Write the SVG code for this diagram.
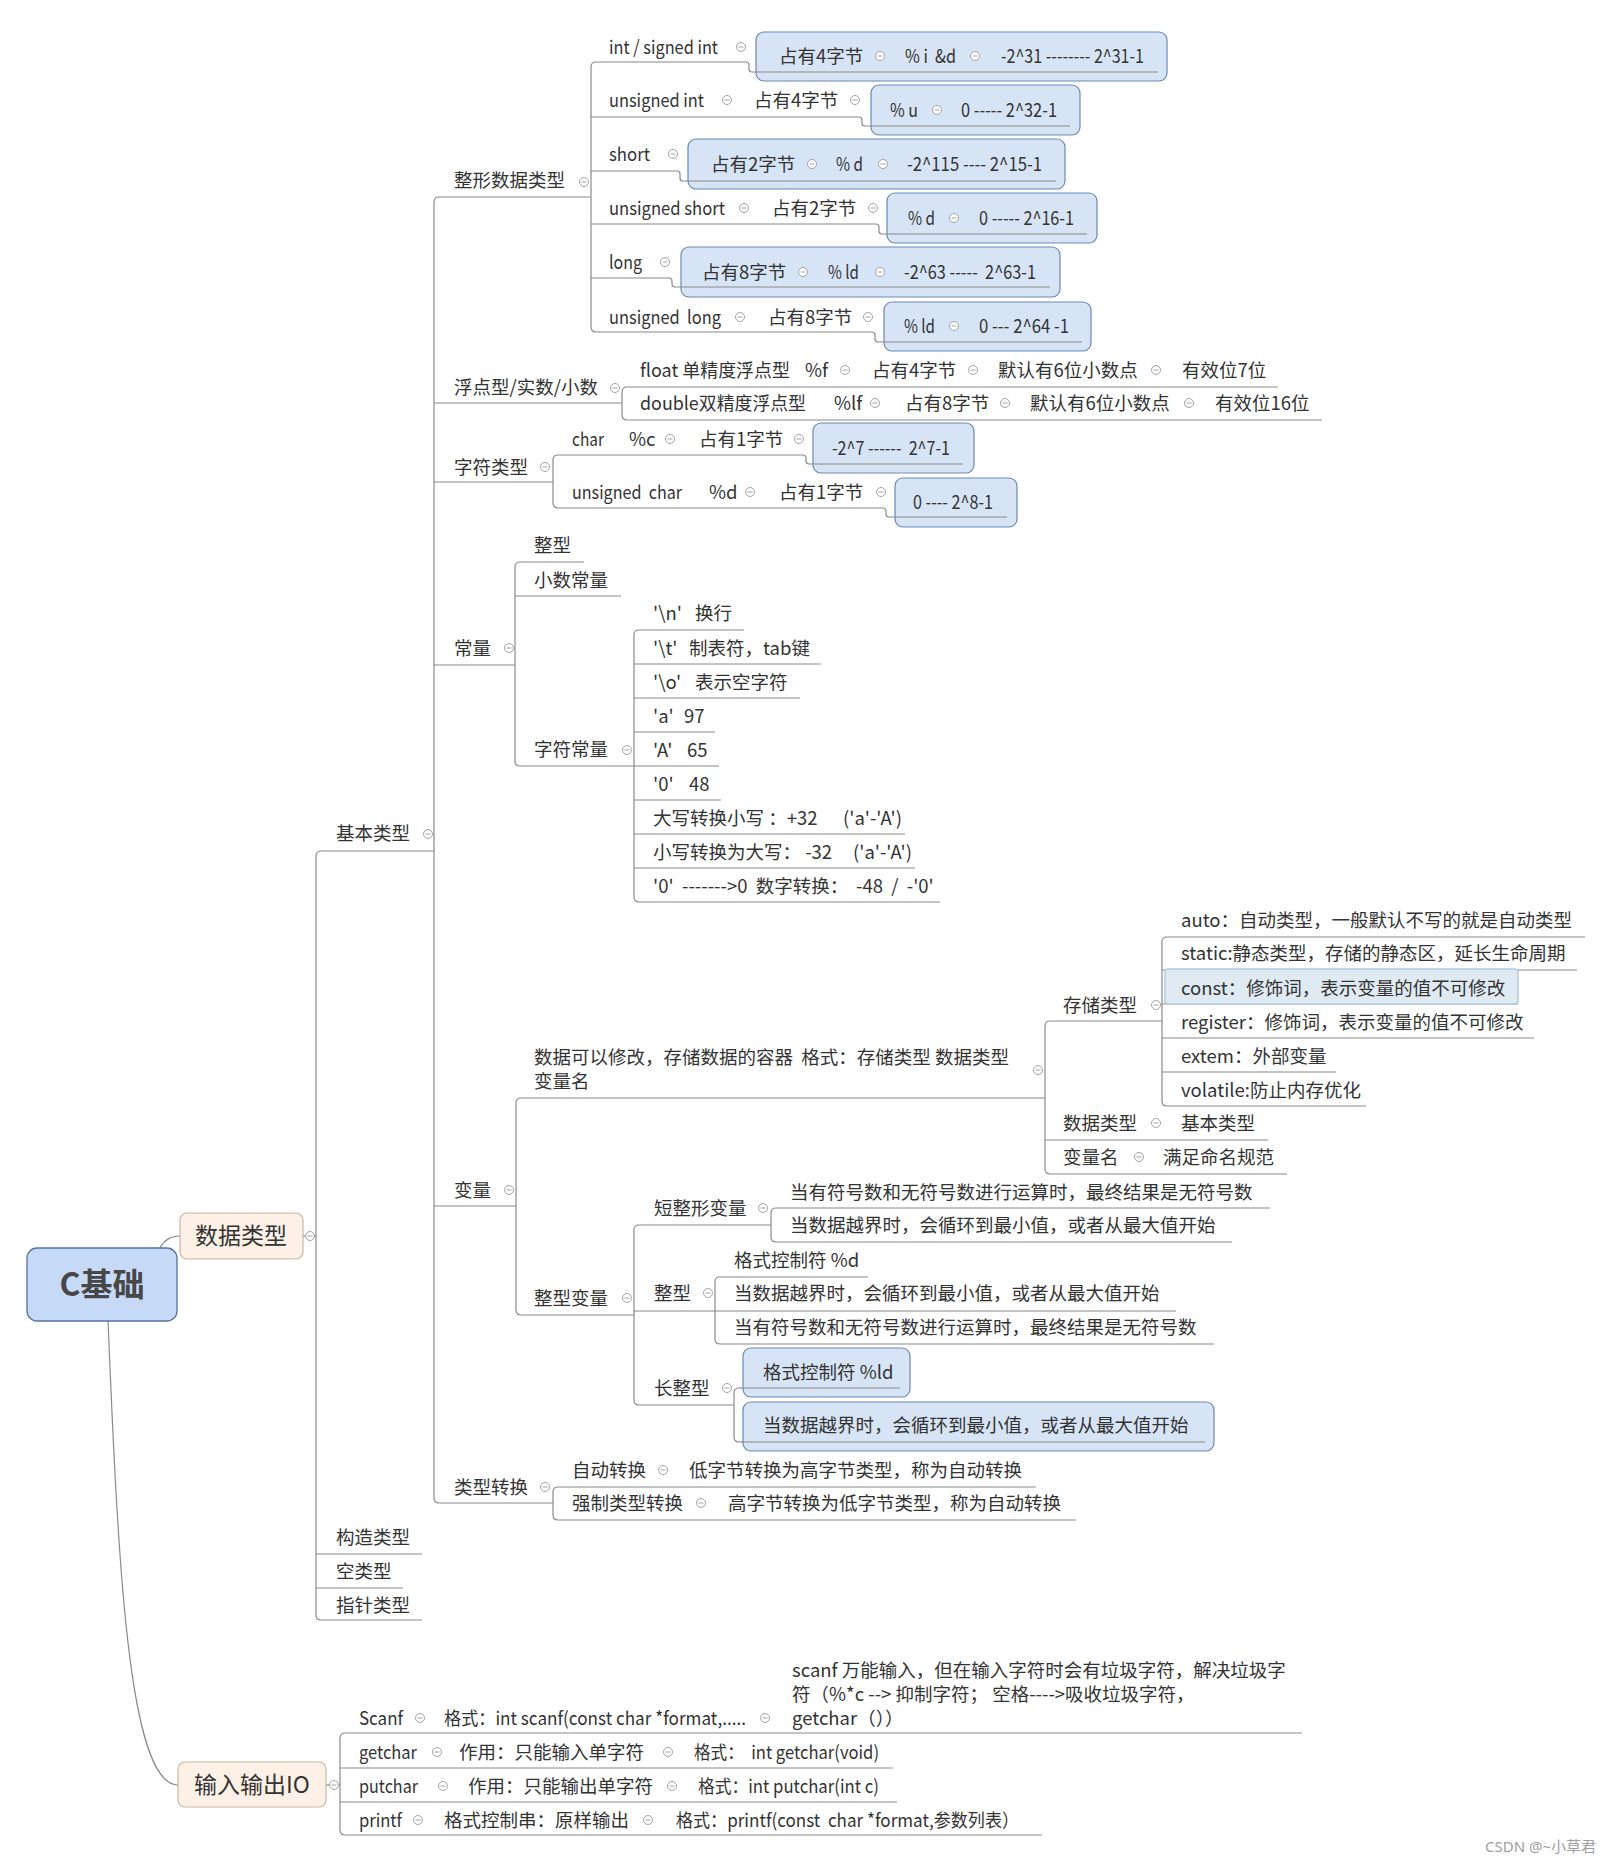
<svg xmlns="http://www.w3.org/2000/svg" xmlns:xlink="http://www.w3.org/1999/xlink" width="1617" height="1865" viewBox="0 0 1617 1865">
<defs>
<style>
.t{font-family:"Noto Sans CJK SC","Noto Sans",sans-serif;font-size:18.5px;fill:#333;white-space:pre}
.ln{fill:none;stroke:#8a8a8a;stroke-width:1.2}
.bx{fill:#d7e4f5;stroke:#6a8ab3;stroke-width:1.2}
.pb{fill:#fdf1e7;stroke:#c9b6a2;stroke-width:1.2}
.wm{font-family:"Noto Sans","Noto Sans CJK SC",sans-serif;font-size:15px;fill:#a0a0a0}
</style>
<g id="cc"><circle r="4.5" fill="#fff" stroke="#a3a3a3" stroke-width="1"/><path d="M-2.5 0H2.5" stroke="#a3a3a3" stroke-width="1"/></g>
</defs>
<rect width="1617" height="1865" fill="#fff"/>

<g id="connectors" class="ln">
<path d="M160,1248 Q166,1236 180,1236"/>
<path d="M108,1321 C118,1560 128,1785 178,1785"/>
<path d="M303,1236 H316"/>
<path d="M326,1785 H340"/>
<path d="M321,851 Q316,851 316,856 V1615 Q316,1620 321,1620"/>
<path d="M321,851 H434"/>
<path d="M316,1554 H422"/>
<path d="M316,1588 H403"/>
<path d="M321,1620 H422"/>
<path d="M439,197 Q434,197 434,202 V1498 Q434,1503 439,1503"/>
<path d="M439,197 H591"/>
<path d="M434,403 H622"/>
<path d="M434,482 H553"/>
<path d="M434,665 H515"/>
<path d="M434,1206 H516"/>
<path d="M439,1503 H553"/>
<path d="M596,62 Q591,62 591,67 V327 Q591,332 596,332"/>
<path d="M596,62 H746 Q749,62 749,65 V69 Q749,72 752,72 H756"/>
<path d="M591,117 H859 Q862,117 862,120 V123 Q862,126 865,126 H871"/>
<path d="M591,171 H677 Q680,171 680,174 V178 Q680,181 683,181 H688"/>
<path d="M591,224 H876 Q879,224 879,227 V231 Q879,234 882,234 H887"/>
<path d="M591,278 H669 Q672,278 672,281 V284 Q672,287 675,287 H681"/>
<path d="M596,332 H872 Q875,332 875,335 V339 Q875,342 878,342 H884"/>
<path d="M627,387 Q622,387 622,392 V415 Q622,420 627,420"/>
<path d="M627,387 H1278"/>
<path d="M627,420 H1322"/>
<path d="M558,455 Q553,455 553,460 V503 Q553,508 558,508"/>
<path d="M558,455 H803 Q806,455 806,458 V461 Q806,464 809,464 H813"/>
<path d="M558,508 H883 Q886,508 886,511 V514 Q886,517 889,517 H895"/>
<path d="M520,562 Q515,562 515,567 V761 Q515,766 520,766"/>
<path d="M520,562 H584"/>
<path d="M515,596 H621"/>
<path d="M520,766 H634"/>
<path d="M639,630 Q634,630 634,635 V897 Q634,902 639,902"/>
<path d="M639,630 H744"/>
<path d="M634,664 H821"/>
<path d="M634,698 H800"/>
<path d="M634,732 H715"/>
<path d="M634,766 H719"/>
<path d="M634,800 H721"/>
<path d="M634,834 H905"/>
<path d="M634,868 H915"/>
<path d="M639,902 H940"/>
<path d="M521,1098 Q516,1098 516,1103 V1310 Q516,1315 521,1315"/>
<path d="M521,1098 H1045"/>
<path d="M521,1315 H634"/>
<path d="M1050,1021 Q1045,1021 1045,1026 V1169 Q1045,1174 1050,1174"/>
<path d="M1050,1021 H1162"/>
<path d="M1045,1140 H1268"/>
<path d="M1050,1174 H1287"/>
<path d="M1167,937 Q1162,937 1162,942 V1101 Q1162,1106 1167,1106"/>
<path d="M1167,937 H1585"/>
<path d="M1162,970 H1577"/>
<path d="M1162,1004 H1518"/>
<path d="M1162,1038 H1534"/>
<path d="M1162,1072 H1336"/>
<path d="M1167,1106 H1366"/>
<path d="M639,1225 Q634,1225 634,1230 V1400 Q634,1405 639,1405"/>
<path d="M639,1225 H771"/>
<path d="M634,1311 H715"/>
<path d="M639,1405 H734"/>
<path d="M776,1208 Q771,1208 771,1213 V1237 Q771,1242 776,1242"/>
<path d="M776,1208 H1270"/>
<path d="M776,1242 H1232"/>
<path d="M720,1277 Q715,1277 715,1282 V1339 Q715,1344 720,1344"/>
<path d="M720,1277 H868"/>
<path d="M715,1311 H1176"/>
<path d="M720,1344 H1214"/>
<path d="M739,1388 Q734,1388 734,1393 V1437 Q734,1442 739,1442"/>
<path d="M739,1388 H743"/>
<path d="M739,1442 H743"/>
<path d="M558,1487 Q553,1487 553,1492 V1515 Q553,1520 558,1520"/>
<path d="M558,1487 H1036"/>
<path d="M558,1520 H1076"/>
<path d="M345,1733 Q340,1733 340,1738 V1830 Q340,1835 345,1835"/>
<path d="M345,1733 H1302"/>
<path d="M340,1768 H893"/>
<path d="M340,1802 H897"/>
<path d="M345,1835 H1042"/>
</g>

<g id="n-root"><rect x="27" y="1248" width="150" height="73" rx="10" fill="#c6daf7" stroke="#5374a3" stroke-width="1.3"/><text x="102" y="1296" text-anchor="middle" style="font-family:'Noto Sans CJK SC','Noto Sans',sans-serif;font-size:32px;font-weight:600;fill:#474747">C基础</text></g>
<g id="n-datatype"><rect class="pb" x="180" y="1213" width="123" height="46" rx="7"/><text class="t" x="241" y="1244" text-anchor="middle" style="font-size:23px">数据类型</text><use href="#cc" x="310" y="1236"/></g>
<g id="n-io"><rect class="pb" x="178" y="1762" width="148" height="45" rx="7"/><text class="t" x="252" y="1793" text-anchor="middle" style="font-size:23px">输入输出IO</text><use href="#cc" x="334" y="1785"/></g>

<g id="n-basic"><text class="t" x="336" y="840">基本类型</text><use href="#cc" x="428" y="834"/></g>
<g id="n-struct"><text class="t" x="336" y="1544">构造类型</text></g>
<g id="n-void"><text class="t" x="336" y="1578">空类型</text></g>
<g id="n-pointer"><text class="t" x="336" y="1612">指针类型</text></g>

<g id="n-int"><text class="t" x="454" y="187">整形数据类型</text><use href="#cc" x="584" y="182"/></g>
<g id="n-float"><text class="t" x="454" y="394">浮点型/实数/小数</text><use href="#cc" x="615" y="388"/></g>
<g id="n-char"><text class="t" x="454" y="474">字符类型</text><use href="#cc" x="545" y="467"/></g>
<g id="n-const"><text class="t" x="454" y="655">常量</text><use href="#cc" x="509" y="648"/></g>
<g id="n-var"><text class="t" x="454" y="1197">变量</text><use href="#cc" x="509" y="1190"/></g>
<g id="n-conv"><text class="t" x="454" y="1494">类型转换</text><use href="#cc" x="545" y="1487"/></g>

<g id="n-r1"><text class="t" x="609" y="54" textLength="109" lengthAdjust="spacingAndGlyphs">int / signed int</text><use href="#cc" x="741" y="47"/>
<rect class="bx" x="756" y="32" width="411" height="49" rx="8"/><path class="ln" d="M756,72 H1158"/>
<text class="t" x="779" y="63">占有4字节</text><use href="#cc" x="880" y="56"/><text class="t" x="905" y="63" textLength="51" lengthAdjust="spacingAndGlyphs">% i  &amp;d</text><use href="#cc" x="975" y="56"/><text class="t" x="1001" y="63" textLength="143" lengthAdjust="spacingAndGlyphs">-2^31 -------- 2^31-1</text></g>
<g id="n-r2"><text class="t" x="609" y="107" textLength="95" lengthAdjust="spacingAndGlyphs">unsigned int</text><use href="#cc" x="727" y="100"/><text class="t" x="754" y="107">占有4字节</text><use href="#cc" x="855" y="100"/>
<rect class="bx" x="871" y="85" width="209" height="50" rx="8"/><path class="ln" d="M871,126 H1070"/>
<text class="t" x="890" y="117" textLength="28" lengthAdjust="spacingAndGlyphs">% u</text><use href="#cc" x="937" y="110"/><text class="t" x="961" y="117" textLength="96" lengthAdjust="spacingAndGlyphs">0 ----- 2^32-1</text></g>
<g id="n-r3"><text class="t" x="609" y="161" textLength="41" lengthAdjust="spacingAndGlyphs">short</text><use href="#cc" x="673" y="154"/>
<rect class="bx" x="688" y="139" width="377" height="50" rx="8"/><path class="ln" d="M688,181 H1056"/>
<text class="t" x="711" y="171">占有2字节</text><use href="#cc" x="812" y="164"/><text class="t" x="836" y="171" textLength="27" lengthAdjust="spacingAndGlyphs">% d</text><use href="#cc" x="883" y="164"/><text class="t" x="907" y="171" textLength="135" lengthAdjust="spacingAndGlyphs">-2^115 ---- 2^15-1</text></g>
<g id="n-r4"><text class="t" x="609" y="215" textLength="116" lengthAdjust="spacingAndGlyphs">unsigned short</text><use href="#cc" x="744" y="208"/><text class="t" x="772" y="215">占有2字节</text><use href="#cc" x="873" y="208"/>
<rect class="bx" x="887" y="193" width="210" height="50" rx="8"/><path class="ln" d="M887,234 H1087"/>
<text class="t" x="908" y="225" textLength="27" lengthAdjust="spacingAndGlyphs">% d</text><use href="#cc" x="954" y="218"/><text class="t" x="979" y="225" textLength="95" lengthAdjust="spacingAndGlyphs">0 ----- 2^16-1</text></g>
<g id="n-r5"><text class="t" x="609" y="269" textLength="33" lengthAdjust="spacingAndGlyphs">long</text><use href="#cc" x="665" y="262"/>
<rect class="bx" x="681" y="247" width="379" height="50" rx="8"/><path class="ln" d="M681,287 H1050"/>
<text class="t" x="702" y="279">占有8字节</text><use href="#cc" x="803" y="272"/><text class="t" x="828" y="279" textLength="31" lengthAdjust="spacingAndGlyphs">% ld</text><use href="#cc" x="880" y="272"/><text class="t" x="904" y="279" textLength="132" lengthAdjust="spacingAndGlyphs">-2^63 -----  2^63-1</text></g>
<g id="n-r6"><text class="t" x="609" y="324" textLength="112" lengthAdjust="spacingAndGlyphs">unsigned  long</text><use href="#cc" x="740" y="317"/><text class="t" x="768" y="324">占有8字节</text><use href="#cc" x="868" y="317"/>
<rect class="bx" x="884" y="302" width="207" height="49" rx="8"/><path class="ln" d="M884,342 H1082"/>
<text class="t" x="904" y="333" textLength="31" lengthAdjust="spacingAndGlyphs">% ld</text><use href="#cc" x="954" y="326"/><text class="t" x="979" y="333" textLength="90" lengthAdjust="spacingAndGlyphs">0 --- 2^64 -1</text></g>

<g id="n-f1"><text class="t" x="640" y="377" textLength="150" lengthAdjust="spacingAndGlyphs">float 单精度浮点型</text><text class="t" x="805" y="377">%f</text><use href="#cc" x="845" y="370"/><text class="t" x="872" y="377">占有4字节</text><use href="#cc" x="973" y="370"/><text class="t" x="998" y="377">默认有6位小数点</text><use href="#cc" x="1156" y="370"/><text class="t" x="1182" y="377">有效位7位</text></g>
<g id="n-f2"><text class="t" x="640" y="410" textLength="166" lengthAdjust="spacingAndGlyphs">double双精度浮点型</text><text class="t" x="834" y="410">%lf</text><use href="#cc" x="875" y="403"/><text class="t" x="905" y="410">占有8字节</text><use href="#cc" x="1005" y="403"/><text class="t" x="1030" y="410">默认有6位小数点</text><use href="#cc" x="1189" y="403"/><text class="t" x="1215" y="410">有效位16位</text></g>

<g id="n-c1"><text class="t" x="572" y="446" textLength="32" lengthAdjust="spacingAndGlyphs">char</text><text class="t" x="629" y="446">%c</text><use href="#cc" x="670" y="439"/><text class="t" x="699" y="446">占有1字节</text><use href="#cc" x="799" y="439"/>
<rect class="bx" x="813" y="423" width="161" height="50" rx="8"/><path class="ln" d="M813,464 H963"/><text class="t" x="832" y="455" textLength="118" lengthAdjust="spacingAndGlyphs">-2^7 ------  2^7-1</text></g>
<g id="n-c2"><text class="t" x="572" y="499" textLength="110" lengthAdjust="spacingAndGlyphs">unsigned  char</text><text class="t" x="709" y="499">%d</text><use href="#cc" x="750" y="492"/><text class="t" x="779" y="499">占有1字节</text><use href="#cc" x="881" y="492"/>
<rect class="bx" x="895" y="478" width="122" height="49" rx="8"/><path class="ln" d="M895,517 H1007"/><text class="t" x="913" y="509" textLength="80" lengthAdjust="spacingAndGlyphs">0 ---- 2^8-1</text></g>

<g id="n-k1"><text class="t" x="534" y="552">整型</text></g>
<g id="n-k2"><text class="t" x="534" y="587">小数常量</text></g>
<g id="n-k3"><text class="t" x="534" y="756">字符常量</text><use href="#cc" x="627" y="750"/></g>
<g id="n-e1"><text class="t" x="653" y="620">'\n'</text><text class="t" x="695" y="620">换行</text></g>
<g id="n-e2"><text class="t" x="653" y="655">'\t'</text><text class="t" x="689" y="655">制表符，tab键</text></g>
<g id="n-e3"><text class="t" x="653" y="689">'\o'</text><text class="t" x="695" y="689">表示空字符</text></g>
<g id="n-e4"><text class="t" x="653" y="723">'a'</text><text class="t" x="684" y="723">97</text></g>
<g id="n-e5"><text class="t" x="653" y="757">'A'</text><text class="t" x="687" y="757">65</text></g>
<g id="n-e6"><text class="t" x="653" y="791">'0'</text><text class="t" x="689" y="791">48</text></g>
<g id="n-e7"><text class="t" x="653" y="825">大写转换小写 ：+32</text><text class="t" x="843" y="825">('a'-'A')</text></g>
<g id="n-e8"><text class="t" x="653" y="859">小写转换为大写： -32</text><text class="t" x="853" y="859">('a'-'A')</text></g>
<g id="n-e9"><text class="t" x="653" y="893">'0'</text><text class="t" x="682" y="893">-------&gt;0  数字转换：</text><text class="t" x="856" y="893">-48  /  -'0'</text></g>

<g id="n-vdef"><text class="t" x="534" y="1064">数据可以修改，存储数据的容器  格式：存储类型 数据类型<tspan x="534" y="1088">变量名</tspan></text><use href="#cc" x="1038" y="1070"/></g>
<g id="n-store"><text class="t" x="1063" y="1012">存储类型</text><use href="#cc" x="1156" y="1005"/></g>
<g id="n-s1"><text class="t" x="1181" y="927">auto：自动类型，一般默认不写的就是自动类型</text></g>
<g id="n-s2"><text class="t" x="1181" y="960">static:静态类型，存储的静态区，延长生命周期</text></g>
<g id="n-s3"><rect x="1165" y="969" width="353" height="35" rx="3" fill="#dfeaf2" stroke="#b3cddf" stroke-width="1.5"/><text class="t" x="1181" y="995">const：修饰词，表示变量的值不可修改</text></g>
<g id="n-s4"><text class="t" x="1181" y="1029">register：修饰词，表示变量的值不可修改</text></g>
<g id="n-s5"><text class="t" x="1181" y="1063">extem：外部变量</text></g>
<g id="n-s6"><text class="t" x="1181" y="1097">volatile:防止内存优化</text></g>
<g id="n-dtype"><text class="t" x="1063" y="1130">数据类型</text><use href="#cc" x="1156" y="1123"/><text class="t" x="1181" y="1130">基本类型</text></g>
<g id="n-vname"><text class="t" x="1063" y="1164">变量名</text><use href="#cc" x="1139" y="1157"/><text class="t" x="1163" y="1164">满足命名规范</text></g>

<g id="n-intvar"><text class="t" x="534" y="1305">整型变量</text><use href="#cc" x="627" y="1298"/></g>
<g id="n-short"><text class="t" x="654" y="1215">短整形变量</text><use href="#cc" x="763" y="1208"/><text class="t" x="790" y="1199">当有符号数和无符号数进行运算时，最终结果是无符号数</text><text class="t" x="790" y="1232">当数据越界时，会循环到最小值，或者从最大值开始</text></g>
<g id="n-intv"><text class="t" x="654" y="1300">整型</text><use href="#cc" x="708" y="1293"/><text class="t" x="734" y="1267">格式控制符 %d</text><text class="t" x="734" y="1300">当数据越界时，会循环到最小值，或者从最大值开始</text><text class="t" x="734" y="1334">当有符号数和无符号数进行运算时，最终结果是无符号数</text></g>
<g id="n-longv"><text class="t" x="654" y="1395">长整型</text><use href="#cc" x="727" y="1388"/>
<rect class="bx" x="743" y="1348" width="167" height="49" rx="8"/><path class="ln" d="M743,1388 H900"/><text class="t" x="763" y="1379">格式控制符 %ld</text>
<rect class="bx" x="743" y="1402" width="471" height="49" rx="8"/><path class="ln" d="M743,1442 H1205"/><text class="t" x="763" y="1432">当数据越界时，会循环到最小值，或者从最大值开始</text></g>

<g id="n-auto"><text class="t" x="572" y="1477">自动转换</text><use href="#cc" x="663" y="1470"/><text class="t" x="689" y="1477">低字节转换为高字节类型，称为自动转换</text></g>
<g id="n-force"><text class="t" x="572" y="1510">强制类型转换</text><use href="#cc" x="701" y="1503"/><text class="t" x="728" y="1510">高字节转换为低字节类型，称为自动转换</text></g>

<g id="n-scanf"><text class="t" x="359" y="1725" textLength="44" lengthAdjust="spacingAndGlyphs">Scanf</text><use href="#cc" x="420" y="1718"/><text class="t" x="444" y="1725" textLength="302" lengthAdjust="spacingAndGlyphs">格式：int scanf(const char *format,.....</text><use href="#cc" x="765" y="1718"/><text class="t" x="792" y="1677">scanf 万能输入，但在输入字符时会有垃圾字符，解决垃圾字<tspan x="792" y="1701">符（%*c --&gt; 抑制字符； 空格----&gt;吸收垃圾字符，</tspan><tspan x="792" y="1725">getchar（））</tspan></text></g>
<g id="n-getchar"><text class="t" x="359" y="1759" textLength="58" lengthAdjust="spacingAndGlyphs">getchar</text><use href="#cc" x="437" y="1752"/><text class="t" x="459" y="1759">作用：只能输入单字符</text><use href="#cc" x="668" y="1752"/><text class="t" x="694" y="1759" textLength="185" lengthAdjust="spacingAndGlyphs">格式：  int getchar(void)</text></g>
<g id="n-putchar"><text class="t" x="359" y="1793" textLength="59" lengthAdjust="spacingAndGlyphs">putchar</text><use href="#cc" x="443" y="1786"/><text class="t" x="468" y="1793">作用：只能输出单字符</text><use href="#cc" x="672" y="1786"/><text class="t" x="698" y="1793" textLength="181" lengthAdjust="spacingAndGlyphs">格式：int putchar(int c)</text></g>
<g id="n-printf"><text class="t" x="359" y="1827" textLength="43" lengthAdjust="spacingAndGlyphs">printf</text><use href="#cc" x="418" y="1820"/><text class="t" x="444" y="1827">格式控制串：原样输出</text><use href="#cc" x="648" y="1820"/><text class="t" x="676" y="1827" textLength="343" lengthAdjust="spacingAndGlyphs">格式：printf(const  char *format,参数列表）</text></g>

<text class="wm" x="1485" y="1852">CSDN @~小草君</text>
</svg>
